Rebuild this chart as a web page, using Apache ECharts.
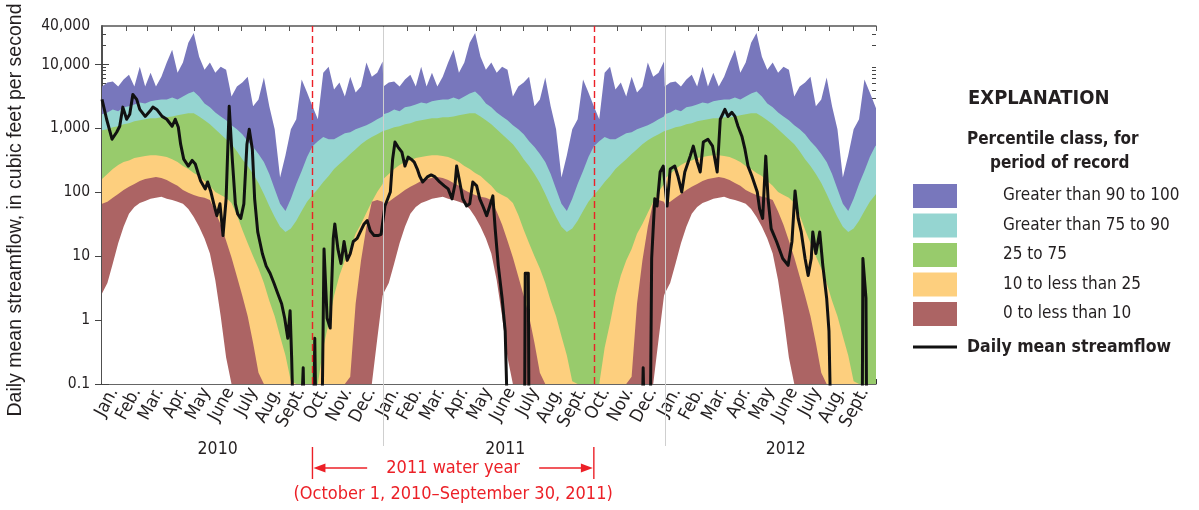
<!DOCTYPE html>
<html><head><meta charset="utf-8">
<script src="https://cdn.jsdelivr.net/npm/echarts@6/dist/echarts.min.js"></script>
<style>html,body{margin:0;padding:0;background:#fff}#c{width:1199px;height:510px}</style>
</head><body><div id="c"></div>
<script>
// ---------- data ----------
// day-of-year sample points (percentile statistics repeat every calendar year)
const doy = [0,7,14,21,28,35,42,49,56,63,70,77,84,91,98,105,112,119,126,133,140,147,154,161,168,175,182,189,196,203,210,217,224,231,238,245,252,259,266,273,280,287,294,301,308,315,322,329,336,343,350,357,364];
// percentile curves (cubic feet per second), 0.1 = at or below axis minimum
const pctMax = [4520,5210,5400,4520,5800,6930,4520,9240,4520,7450,4520,6450,10700,17000,7450,10700,21800,31200,13200,8300,10700,7450,9240,8300,3160,4520,5210,6450,2210,2840,6230,2210,968,170,380,968,1390,5800,3640,2210,1390,7450,9240,4060,5210,3160,6450,3640,4520,10700,6450,7450,11100];
const pctP90 = [1660,1780,1980,1850,2150,2210,2370,2550,2450,2650,2750,2840,2840,3050,2840,3160,3500,3780,3160,2450,2150,1780,1540,1340,1120,968,809,630,510,396,297,193,113,66,51,79,135,215,355,527,630,730,677,677,754,840,869,968,1040,1120,1240,1390,1540];
const pctP75 = [935,968,1040,1080,1160,1200,1290,1340,1390,1440,1440,1490,1490,1540,1600,1660,1720,1720,1540,1340,1160,968,809,677,566,440,330,257,193,140,94,61,41,29,24,27,36,51,71,91,113,145,180,231,277,330,396,473,566,650,730,809,900];
const pctP25 = [162,193,231,267,297,315,345,355,368,380,380,368,355,330,297,257,231,200,180,150,126,101,91,82,68,44,26,16,10,6.4,3.8,2.0,1.15,0.56,0.28,0.11,0.1,0.1,0.1,0.1,0.1,0.37,0.9,2.4,5,8.6,13,22.5,32,48,71,101,135];
const pctP10 = [66,71,82,94,109,122,135,150,162,168,174,168,156,140,126,109,98,91,85,82,76,50,31,17.5,9.5,4.8,2.4,1.15,0.44,0.15,0.1,0.1,0.1,0.1,0.1,0.1,0.1,0.1,0.1,0.1,0.1,0.1,0.1,0.1,0.1,0.1,0.13,1.8,8.6,29,71,76,71];
const pctMin = [2.6,3.8,7.7,16,29,46,59,68,73,79,82,85,79,76,71,66,55,41,29,19,11,4.2,1.15,0.26,0.1,0.1,0.1,0.1,0.1,0.1,0.1,0.1,0.1,0.1,0.1,0.1,0.1,0.1,0.1,0.1,0.1,0.1,0.1,0.1,0.1,0.1,0.1,0.1,0.1,0.1,0.1,0.5,2.4];
// daily mean streamflow: days since January 1, 2010 and flow (cfs); 0.01 = no flow (below axis floor)
const flowDay = [0,6,13,19,23,27,32,36,40,45,49,56,62,66,71,78,84,91,95,99,102,106,112,117,121,125,128,134,137,141,145,149,153,157,161,165,169,173,176,180,184,188,191,195,198,202,208,213,218,223,228,233,237,241,244,246,249,257,261,263,274,276,278,285,288,292,296,300,302,306,310,314,318,322,326,331,335,340,344,348,353,358,362,367,374,377,380,384,389,393,397,401,405,409,412,416,422,427,432,438,444,449,454,458,460,464,468,473,477,481,486,490,494,499,503,507,510,514,519,523,527,548,549,553,554,700,702,704,711,713,717,720,724,728,733,737,743,747,752,756,763,767,772,776,780,786,792,798,802,808,812,817,821,825,830,834,838,843,850,853,857,861,864,868,875,883,890,895,899,903,907,912,916,920,922,926,931,935,940,943,946,986,987,991,992,1004];
const flowVal = [2840,1390,677,869,1080,2150,1390,1660,3390,2840,1980,1540,1850,2150,1980,1540,1390,1080,1390,1040,566,330,257,315,277,193,150,113,145,104,66,43,66,21,79,2210,330,66,46,39,66,566,968,473,79,24,11,7,5.4,3.8,2.6,1.8,1.07,0.52,1.4,0.26,0.01,0.01,0.18,0.01,0.01,0.52,0.01,0.01,13,1.07,0.75,19,32,13,7.7,17,8.6,11,17,19,24,32,36,25,21,21,22,61,101,330,610,510,425,257,355,330,297,231,180,145,174,187,174,145,126,113,79,135,257,145,79,61,66,145,126,79,61,43,61,88,27,7.2,2.2,0.67,0.01,0.01,5.4,5.4,0.01,0.01,0.18,0.01,0.01,9.2,79,61,208,257,61,231,257,180,101,208,368,527,297,208,610,677,527,208,1390,1980,1540,1780,1540,1080,754,473,257,180,101,55,39,368,79,27,17,9.2,7.2,17,105,39,24,9.2,5,9.2,24,11,24,7.2,2.2,0.67,0.01,0.01,9.2,2.2,0.01,0.01];
// axis categories / labels
const monthStartDays = [0,31,59,90,120,151,181,212,243,273,304,334,365,396,424,455,485,516,546,577,608,638,669,699,730,761,790,821,851,882,912,943,974,1004];
const monthNames = ['Jan.','Feb.','Mar.','Apr.','May','June','July','Aug.','Sept.','Oct.','Nov.','Dec.'];
const yearNames = ['2010','2011','2012'];
const yearStartDays = [0,365,730];
const yearLabelDays = [150,523,887];
const waterYearBounds = [273,638];
const yLabelValues = [0.1,1,10,100,1000,10000,40000];
const yMajorTicks = [0.1,1,10,100,1000,10000];
const bandNames = ['Greater than 90 to 100','Greater than 75 to 90','25 to 75','10 to less than 25','0 to less than 10'];
const lineName = 'Daily mean streamflow';

// ---------- build ----------
const END = 1004;
const NARROW = "'Liberation Sans Narrow','DejaVu Sans Condensed',sans-serif";
const SANS = "'Liberation Sans',Arial,sans-serif";
const TXT = '#231f20';
const RED = '#ec2027';

function repeatYears(vals){
  const out = [];
  yearStartDays.forEach(off => {
    doy.forEach((d, i) => { out.push([off + d, vals[i]]); });
  });
  return out.filter(p => p[0] <= END + 8);
}
const monthMidDays = monthStartDays.slice(0, -1).map((s, i) => (s + monthStartDays[i + 1]) / 2);
const yMinorTicks = [];
for (let e = -1; e <= 4; e++) for (let m = 2; m <= 9; m++) { const v = +(m * Math.pow(10, e)).toPrecision(3); if (v < 40000) yMinorTicks.push(v); }

const bandColors = ['#7877bc','#95d5d1','#98cb6c','#fdcf7e','#ac6464','#ffffff'];
const bandData = [pctMax, pctP90, pctP75, pctP25, pctP10, pctMin];
const seriesNames = bandNames.concat(['minimum']);

const series = bandData.map((arr, i) => ({
  name: seriesNames[i], type: 'line', xAxisIndex: 0, yAxisIndex: 0,
  data: repeatYears(arr), symbol: 'none', showSymbol: false, silent: true,
  itemStyle: { color: bandColors[i] },
  lineStyle: { width: 0, color: bandColors[i] },
  areaStyle: { color: bandColors[i], opacity: 1, origin: 'start' },
  clip: true, z: 2
}));
series.push({
  name: lineName, type: 'line', xAxisIndex: 0, yAxisIndex: 0,
  data: flowDay.map((d, i) => [d, flowVal[i]]),
  symbol: 'none', showSymbol: false, silent: true, clip: true, z: 4,
  itemStyle: { color: '#111' },
  lineStyle: { color: '#111', width: 3, join: 'round' },
  markLine: {
    silent: true, symbol: 'none', label: { show: false },
    lineStyle: { color: RED, type: [7, 4], width: 1.4 },
    data: waterYearBounds.map(d => ({ xAxis: d }))
  }
});

function yAxisDef(pos, ticks, len, showLine, showLabel){
  return {
    type: 'log', logBase: 10, min: 0.1, max: 40000, position: pos,
    axisLine: { show: showLine, lineStyle: { color: '#444', width: 1.5 } },
    axisTick: { show: true, inside: true, length: len, customValues: ticks, lineStyle: { color: '#444', width: 1 } },
    axisLabel: showLabel ? {
      show: true, customValues: yLabelValues, margin: 12,
      fontFamily: NARROW, fontSize: 15.5, color: TXT,
      formatter: v => Number(v).toLocaleString('en-US', { maximumFractionDigits: 1 })
    } : { show: false },
    splitLine: { show: false }, minorTick: { show: false }
  };
}

const yAxes = [
  Object.assign(yAxisDef('left', yMajorTicks, 7, true, true), {
    name: 'Daily mean streamflow, in cubic feet per second', nameLocation: 'middle', nameGap: 76,
    nameTextStyle: { fontFamily: SANS, fontSize: 19.5, color: TXT, padding: [0, 10, 0, 0] }
  }),
  yAxisDef('left', yMinorTicks, 4, false, false),
  yAxisDef('right', yMajorTicks, 7, true, false),
  yAxisDef('right', yMinorTicks, 4, false, false)
];

const xAxes = [
  { type: 'value', min: 0, max: END, position: 'bottom',
    axisLine: { show: true, lineStyle: { color: '#333', width: 1.5 } },
    axisTick: { show: true, inside: true, length: 5, customValues: monthStartDays, lineStyle: { color: '#333' } },
    axisLabel: { show: true, customValues: monthMidDays, rotate: 62, margin: 5,
      fontFamily: NARROW, fontSize: 18, color: TXT,
      formatter: v => { const i = monthMidDays.indexOf(v); return i < 0 ? '' : monthNames[i % 12]; } },
    splitLine: { show: false } },
  { type: 'value', min: 0, max: END, position: 'top',
    axisLine: { show: true, lineStyle: { color: '#555', width: 1.5 } },
    axisTick: { show: true, inside: true, length: 5, customValues: monthStartDays, lineStyle: { color: '#555' } },
    axisLabel: { show: false }, splitLine: { show: false } },
  { type: 'value', min: 0, max: END, position: 'bottom', offset: 48,
    axisLine: { show: false }, axisTick: { show: false }, splitLine: { show: false },
    axisLabel: { show: true, customValues: yearLabelDays, fontFamily: NARROW, fontSize: 17.5, color: TXT,
      formatter: v => { const i = yearLabelDays.indexOf(v); return i < 0 ? '' : yearNames[i]; } } }
];

const option = {
  animation: false,
  backgroundColor: '#fff',
  grid: { left: 102, right: 323, top: 26, bottom: 126, containLabel: false, outerBoundsMode: 'none' },
  xAxis: xAxes,
  yAxis: yAxes,
  legend: [
    { data: bandNames, orient: 'vertical', left: 908, top: 179, itemWidth: 44, itemHeight: 24, itemGap: 5.5,
      icon: 'rect', selectedMode: false,
      textStyle: { fontFamily: NARROW, fontSize: 17, color: TXT, padding: [0, 0, 0, 41] } },
    { data: [lineName], left: 908, top: 333, itemWidth: 44, itemHeight: 3, icon: 'rect', selectedMode: false,
      textStyle: { fontFamily: NARROW, fontWeight: 'bold', fontSize: 17.5, color: TXT, padding: [0, 0, 0, 5] } }
  ],
  series: series
};

const chart = echarts.init(document.getElementById('c'), null, { renderer: 'canvas' });
chart.setOption(option);

// ---------- annotations placed through the axis scale ----------
const px = d => chart.convertToPixel({ xAxisIndex: 0 }, d);
const yTop = chart.convertToPixel({ yAxisIndex: 0 }, 40000);
const g = [];
yearStartDays.slice(1).forEach(d => {
  const x = Math.round(px(d)) + 0.5;
  g.push({ type: 'line', z: 10, silent: true, shape: { x1: x, y1: yTop + 1, x2: x, y2: 446 }, style: { stroke: '#cfcfcf', lineWidth: 1 } });
});
const xa = px(waterYearBounds[0]), xb = px(waterYearBounds[1]);
const yArr = 468, mid = (xa + xb) / 2;
[xa, xb].forEach(x => g.push({ type: 'line', z: 10, silent: true, shape: { x1: x, y1: 447, x2: x, y2: 479 }, style: { stroke: RED, lineWidth: 1.4 } }));
g.push({ type: 'line', z: 10, silent: true, shape: { x1: xa + 8, y1: yArr, x2: mid - 86, y2: yArr }, style: { stroke: RED, lineWidth: 1.4 } });
g.push({ type: 'polygon', z: 10, silent: true, shape: { points: [[xa + 1, yArr], [xa + 13, yArr - 4.5], [xa + 13, yArr + 4.5]] }, style: { fill: RED } });
g.push({ type: 'line', z: 10, silent: true, shape: { x1: mid + 86, y1: yArr, x2: xb - 8, y2: yArr }, style: { stroke: RED, lineWidth: 1.4 } });
g.push({ type: 'polygon', z: 10, silent: true, shape: { points: [[xb - 1, yArr], [xb - 13, yArr - 4.5], [xb - 13, yArr + 4.5]] }, style: { fill: RED } });
function txt(t, x, y, font, align, color){
  return { type: 'text', z: 10, silent: true, x: x, y: y,
    style: { text: t, font: font, fill: color || TXT, textAlign: align || 'left', align: align || 'left', textVerticalAlign: 'middle', verticalAlign: 'middle' } };
}
g.push(txt('2011 water year', mid, yArr, "18px " + NARROW, 'center', RED));
g.push(txt('(October 1, 2010\u2013September 30, 2011)', mid, 494, "18px " + NARROW, 'center', RED));
g.push(txt('EXPLANATION', 968, 99, "bold 20px " + NARROW, 'left'));
g.push(txt('Percentile class, for', 967, 140, "bold 17px " + NARROW, 'left'));
g.push(txt('period of record', 990, 164, "bold 17px " + NARROW, 'left'));
chart.setOption({ graphic: g });
</script></body></html>
